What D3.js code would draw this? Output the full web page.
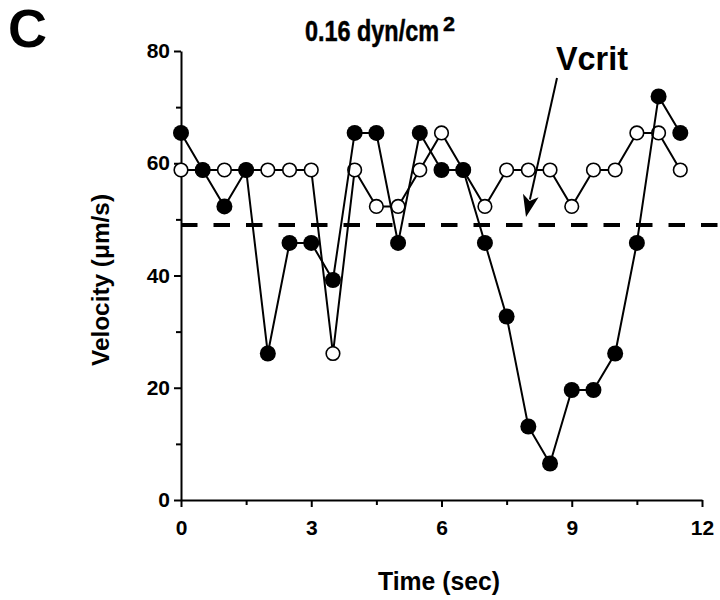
<!DOCTYPE html>
<html>
<head>
<meta charset="utf-8">
<script src="https://cdn.jsdelivr.net/npm/d3@7"></script>
<style>
  html, body { margin: 0; padding: 0; background: #fff; }
  svg text { font-family: "Liberation Sans", Arial, Helvetica, sans-serif; font-weight: bold; fill: #000; }
</style>
</head>
<body>
<svg id="chart" width="720" height="600"></svg>
<script>
// ---- data ----
const times = [0, 0.5, 1, 1.5, 2, 2.5, 3, 3.5, 4, 4.5, 5, 5.5, 6, 6.5, 7, 7.5, 8, 8.5, 9, 9.5, 10, 10.5, 11, 11.5];
const filledVelocity = [65.4, 58.8, 52.3, 58.8, 26.1, 45.8, 45.8, 39.2, 65.4, 65.4, 45.8, 65.4, 58.8, 58.8, 45.8, 32.7, 13.1, 6.5, 19.6, 19.6, 26.1, 45.8, 71.9, 65.4];
const openVelocity = [58.8, 58.8, 58.8, 58.8, 58.8, 58.8, 58.8, 26.1, 58.8, 52.3, 52.3, 58.8, 65.4, 58.8, 52.3, 58.8, 58.8, 58.8, 52.3, 58.8, 58.8, 65.4, 65.4, 58.8];
const vcrit = 49;
const xMajorTicks = [0, 3, 6, 9, 12];
const xMinorTicks = [1.5, 4.5, 7.5, 10.5];
const yMajorTicks = [0, 20, 40, 60, 80];
const yMinorTicks = [10, 30, 50, 70];
const panelLabel = "C";
const titleText = "0.16 dyn/cm";
const titleSup = "2";
const vcritLabel = "Vcrit";
const xTitle = "Time (sec)";
const yTitle = "Velocity (\u03bcm/s)";

// ---- layout ----
const svg = d3.select("#chart");
const x = d3.scaleLinear().domain([0, 12]).range([181, 702]);
const y = d3.scaleLinear().domain([0, 80]).range([500, 51]);

// axes
const axisStroke = 2;
function styleAxis(g) {
  g.selectAll("path.domain").attr("stroke", "#000").attr("stroke-width", axisStroke);
  g.selectAll(".tick line").attr("stroke", "#000").attr("stroke-width", axisStroke);
  g.selectAll(".tick text").style("font-size", "21px").style("font-family", '"Liberation Sans", Arial, sans-serif').style("font-weight", "bold");
}

const gx = svg.append("g").attr("transform", `translate(0,${y(0)})`)
  .call(d3.axisBottom(x).tickValues(xMajorTicks).tickFormat(d3.format("d")).tickSize(7).tickSizeOuter(0).tickPadding(13));
styleAxis(gx);
const gxm = svg.append("g").attr("transform", `translate(0,${y(0)})`)
  .call(d3.axisBottom(x).tickValues(xMinorTicks).tickFormat("").tickSize(5).tickSizeOuter(0));
styleAxis(gxm);
gxm.select("path.domain").remove();

const gy = svg.append("g").attr("transform", `translate(${x(0)},0)`)
  .call(d3.axisLeft(y).tickValues(yMajorTicks).tickFormat(d3.format("d")).tickSize(7).tickSizeOuter(0).tickPadding(4));
styleAxis(gy);
const gym = svg.append("g").attr("transform", `translate(${x(0)},0)`)
  .call(d3.axisLeft(y).tickValues(yMinorTicks).tickFormat("").tickSize(5).tickSizeOuter(0));
styleAxis(gym);
gym.select("path.domain").remove();

// dashed Vcrit line
svg.append("line")
  .attr("x1", x(0)).attr("x2", 720)
  .attr("y1", y(vcrit)).attr("y2", y(vcrit))
  .attr("stroke", "#000").attr("stroke-width", 4)
  .attr("stroke-dasharray", "16.5,16");

// series
const line = d3.line().x(d => x(d[0])).y(d => y(d[1]));
const openData = times.map((t, i) => [t, openVelocity[i]]);
const filledData = times.map((t, i) => [t, filledVelocity[i]]);

svg.append("path").datum(openData).attr("d", line)
  .attr("fill", "none").attr("stroke", "#000").attr("stroke-width", 2);
svg.append("g").selectAll("circle").data(openData).join("circle")
  .attr("cx", d => x(d[0])).attr("cy", d => y(d[1])).attr("r", 6.8)
  .attr("fill", "#fff").attr("stroke", "#000").attr("stroke-width", 1.6);

svg.append("path").datum(filledData).attr("d", line)
  .attr("fill", "none").attr("stroke", "#000").attr("stroke-width", 2);
svg.append("g").selectAll("circle").data(filledData).join("circle")
  .attr("cx", d => x(d[0])).attr("cy", d => y(d[1])).attr("r", 8)
  .attr("fill", "#000");

// arrow pointing to Vcrit
const ax0 = 557, ay0 = 78, ax1 = 526, ay1 = 217;
const ang = Math.atan2(ay1 - ay0, ax1 - ax0);
const headLen = 22, headW = 8;
const bx = ax1 - headLen * Math.cos(ang), by = ay1 - headLen * Math.sin(ang);
const nx = -Math.sin(ang), ny = Math.cos(ang);
svg.append("line").attr("x1", ax0).attr("y1", ay0).attr("x2", bx + 4 * Math.cos(ang)).attr("y2", by + 4 * Math.sin(ang))
  .attr("stroke", "#000").attr("stroke-width", 2);
const nbx = ax1 - (headLen * 0.75) * Math.cos(ang), nby = ay1 - (headLen * 0.75) * Math.sin(ang);
svg.append("path")
  .attr("d", `M${ax1},${ay1} L${bx + nx * headW},${by + ny * headW} L${nbx},${nby} L${bx - nx * headW},${by - ny * headW} Z`)
  .attr("fill", "#000");

// texts
svg.append("text").attr("x", 8).attr("y", 47).style("font-size", "54px").attr("textLength", 39).attr("lengthAdjust", "spacingAndGlyphs").text(panelLabel);

svg.append("text").attr("x", 305).attr("y", 41).style("font-size", "29px")
  .attr("stroke", "#000").attr("stroke-width", 0.5)
  .attr("textLength", 134).attr("lengthAdjust", "spacingAndGlyphs").text(titleText);
svg.append("text").attr("x", 443).attr("y", 31).style("font-size", "20px")
  .attr("stroke", "#000").attr("stroke-width", 0.4)
  .attr("textLength", 12).attr("lengthAdjust", "spacingAndGlyphs").text(titleSup);

svg.append("text").attr("x", 556).attr("y", 70).style("font-size", "33px")
  .attr("textLength", 72).attr("lengthAdjust", "spacingAndGlyphs").text(vcritLabel);

svg.append("text").attr("x", 378).attr("y", 590).style("font-size", "25px")
  .attr("textLength", 122).attr("lengthAdjust", "spacingAndGlyphs").text(xTitle);

svg.append("text").attr("transform", "translate(109,366) rotate(-90)").style("font-size", "24px")
  .attr("textLength", 172).attr("lengthAdjust", "spacingAndGlyphs").text(yTitle);
</script>
</body>
</html>
